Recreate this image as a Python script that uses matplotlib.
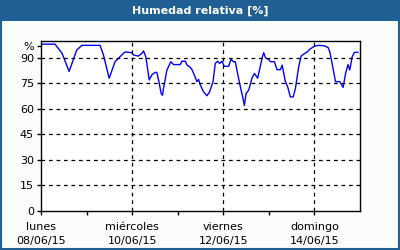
import matplotlib
matplotlib.use("Agg")
import matplotlib.pyplot as plt
from matplotlib.patches import Rectangle

# hours since lunes 08/06/15 00:00
hours = [0, 7.4, 11.1, 14.8, 18.8, 21.5, 31.1, 32.9, 35.9, 39.0, 43.4, 44.3,
         47.8, 48.7, 51.3, 53.1, 54.0, 55.2, 57.0, 58.4, 60.1, 61.0, 62.1,
         63.3, 64.0, 64.5, 66.3, 68.4, 69.8, 73.3, 74.2, 76.0, 76.9, 78.6,
         79.5, 80.7, 82.1, 83.0, 83.9, 85.6, 87.4, 88.8, 90.6, 91.8, 93.0,
         94.1, 95.3, 96.5, 98.8, 100.1, 101.4, 102.3, 104.6, 106.4, 107.1,
         108.0, 109.4, 111.1, 112.4, 114.1, 115.5, 116.6, 117.3, 118.2, 119.9,
         120.8, 122.9, 124.3, 126.1, 127.0, 128.7, 129.9, 131.3, 132.8, 134.0,
         135.7, 137.0, 138.4, 140.2, 141.5, 144.2, 146.3, 149.3, 151.2, 152.1,
         153.3, 155.1, 157.4, 159.1, 160.4, 161.7, 162.6, 163.9, 165.1, 166.9]
humidity = [98, 98, 92.6, 82, 94.5, 97.3, 97.3, 91.6, 78, 87.7, 92.6, 93.4,
            93, 91.6, 91, 92.6, 94, 90.6, 77, 80, 81.4, 81.4, 76,
            69, 68, 72, 82.8, 87.7, 86, 86, 88, 88, 85.7, 84.4,
            83, 80, 76, 77.3, 74, 70, 67.7, 70, 76, 86.7, 88,
            86.7, 88, 85, 85, 89, 87.7, 87.7, 75, 66, 62,
            69, 71, 78, 80.8, 78, 85, 90.6, 93, 90, 89,
            87.7, 87.7, 83, 83, 85.7, 76, 73, 67, 67, 72,
            84.7, 91, 92.2, 93.4, 95, 96.9, 97.3, 97, 96, 93.5,
            86.7, 76, 76, 72.6, 80.8, 86, 82.8, 90.6, 93.2, 93.2]

day_ticks = [0, 48, 96, 144]
day_labels = ["lunes\n08/06/15", "miércoles\n10/06/15",
              "viernes\n12/06/15", "domingo\n14/06/15"]
y_ticks = [0, 15, 30, 45, 60, 75, 90]

title_blue = "#1f5f94"

fig = plt.figure(figsize=(4, 2.5), dpi=100, facecolor="#fbfdfb")

# title bar and border
fig.patches.append(Rectangle((0, 0.918), 1, 0.082, transform=fig.transFigure,
                             facecolor=title_blue, edgecolor="none"))
fig.patches.append(Rectangle((0.002, 0.003), 0.995, 0.994, transform=fig.transFigure,
                             facecolor="none", edgecolor=title_blue, linewidth=1.5))
fig.text(0.5, 0.958, "Humedad relativa [%]", color="white", fontsize=8,
         fontweight="bold", ha="center", va="center")

ax = fig.add_axes([0.1025, 0.156, 0.7975, 0.681])
ax.set_facecolor("white")
ax.plot(hours, humidity, color="#0000ff", linewidth=1)

ax.set_xlim(0, 168)
ax.set_ylim(0, 100)
ax.set_xticks(day_ticks)
ax.set_xticklabels(day_labels, fontsize=8, linespacing=1.45)
ax.set_xticks([24, 72, 120], minor=True)
ax.set_yticks(y_ticks + [97])
ax.set_yticklabels([str(v) for v in y_ticks] + ["%"], fontsize=8)
ax.tick_params(axis="both", which="both", length=3, width=1, pad=2, colors="black")
ax.tick_params(axis="x", which="major", pad=5)

for v in y_ticks[1:]:
    ax.axhline(v, color="black", linestyle=(0, (3, 3)), linewidth=0.9)
for d in day_ticks[1:]:
    ax.axvline(d, color="black", linestyle=(0, (3, 3)), linewidth=0.9)

for s in ax.spines.values():
    s.set_linewidth(1)
    s.set_color("black")

fig.savefig("out.png", dpi=100, facecolor=fig.get_facecolor())
